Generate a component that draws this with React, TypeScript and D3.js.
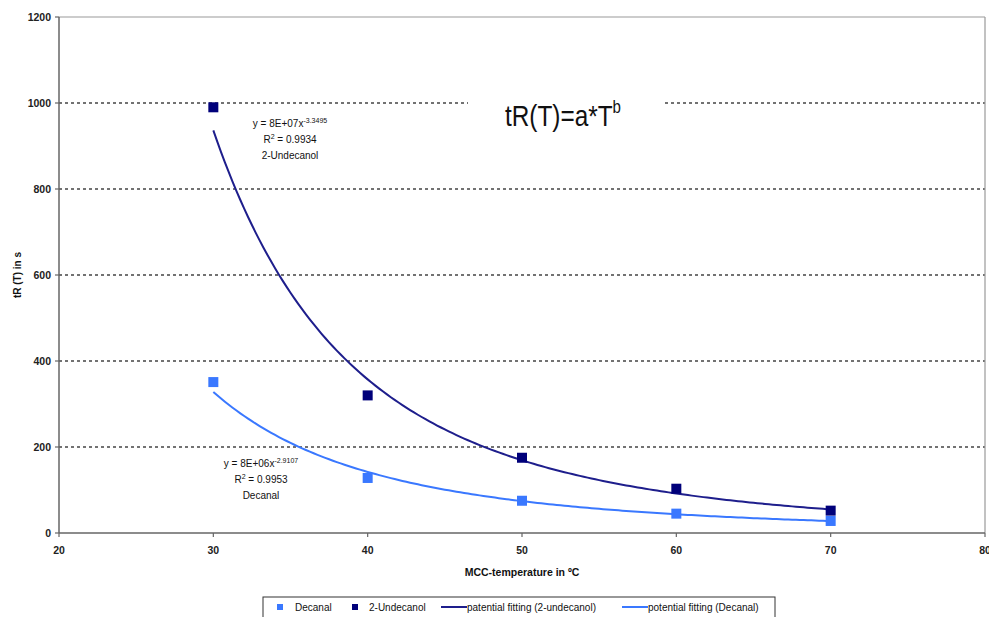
import React from "react";
import * as d3 from "d3";

const temperatures = [30, 40, 50, 60, 70];
const decanal = [351, 128, 75, 45, 28];
const undecanol = [990, 320, 175, 103, 52];

// power-law trend lines y = a * T^b (as drawn)
const fitUndecanol = { a: 8.3e7, b: -3.3495 };
const fitDecanal = { a: 6.54e6, b: -2.9107 };
const fitRange = [30, 70];

const xTicks = [20, 30, 40, 50, 60, 70, 80];
const yTicks = [0, 200, 400, 600, 800, 1000, 1200];
const gridTicks = [200, 400, 600, 800, 1000];

const W = 989;
const H = 617;
const L = 59;
const R = 985;
const T = 17;
const B = 533;

const C_DEC = "#3a78ff";
const C_UND = "#00007a";
const C_DEC_LINE = "#3a78ff";
const C_UND_LINE = "#1e1e8c";
const FONT = "'Liberation Sans', Arial, sans-serif";

export default function App() {
  const x = d3.scaleLinear().domain([20, 80]).range([L, R]);
  const y = d3.scaleLinear().domain([0, 1200]).range([B, T]);
  const line = d3
    .line<[number, number]>()
    .x((d) => x(d[0]))
    .y((d) => y(d[1]))
    .curve(d3.curveLinear);
  const samples = d3.range(fitRange[0], fitRange[1] + 0.001, 0.25);
  const curve = (f: { a: number; b: number }) =>
    line(samples.map((t) => [t, f.a * Math.pow(t, f.b)] as [number, number])) || "";

  const ms = 10;
  return (
    <svg
      width={W}
      height={H}
      style={{ position: "absolute", left: 0, top: 0, background: "#fff" }}
      fontFamily={FONT}
    >
      <rect x={0} y={0} width={W} height={H} fill="#fff" />
      {/* grid */}
      {gridTicks.map((v) => (
        <line
          key={v}
          x1={L}
          x2={R}
          y1={y(v)}
          y2={y(v)}
          stroke="#444"
          strokeWidth={1.3}
          strokeDasharray="3,3"
        />
      ))}
      {/* frame */}
      <line x1={L} x2={R} y1={T} y2={T} stroke="#999" strokeWidth={1.2} />
      <line x1={R} x2={R} y1={T} y2={B} stroke="#999" strokeWidth={1.2} />
      <line x1={L} x2={L} y1={T} y2={B} stroke="#666" strokeWidth={1.5} />
      <line x1={L} x2={R} y1={B} y2={B} stroke="#666" strokeWidth={1.5} />
      {/* y ticks */}
      {yTicks.map((v) => (
        <g key={v}>
          <line x1={L - 4} x2={L} y1={y(v)} y2={y(v)} stroke="#666" strokeWidth={1.2} />
          <text
            x={L - 8}
            y={y(v) + 3.5}
            textAnchor="end"
            fontSize={10.5}
            fontWeight="bold"
            fill="#222"
          >
            {v}
          </text>
        </g>
      ))}
      {/* x ticks */}
      {xTicks.map((v) => (
        <g key={v}>
          <line x1={x(v)} x2={x(v)} y1={B} y2={B + 4} stroke="#666" strokeWidth={1.2} />
          <text
            x={x(v)}
            y={B + 21}
            textAnchor="middle"
            fontSize={10.5}
            fontWeight="bold"
            fill="#222"
          >
            {v}
          </text>
        </g>
      ))}
      {/* axis titles */}
      <text
        x={(L + R) / 2}
        y={576}
        textAnchor="middle"
        fontSize={10.5}
        fontWeight="bold"
        fill="#111"
      >
        MCC-temperature in ºC
      </text>
      <text
        transform={`translate(21,${(T + B) / 2}) rotate(-90)`}
        textAnchor="middle"
        fontSize={10}
        fontWeight="bold"
        fill="#111"
      >
        tR (T) in s
      </text>
      {/* title box */}
      <rect x={468} y={92} width={197} height={40} fill="#fff" />
      <text transform="translate(505,126) scale(0.84,1)" fontSize={29} fill="#111">
        tR(T)=a*T
        <tspan fontSize={18} dy={-13}>b</tspan>
      </text>
      {/* fit curves */}
      <path d={curve(fitUndecanol)} fill="none" stroke={C_UND_LINE} strokeWidth={2} />
      <path d={curve(fitDecanal)} fill="none" stroke={C_DEC_LINE} strokeWidth={2} />
      {/* markers */}
      {temperatures.map((t, i) => (
        <rect
          key={"u" + t}
          x={x(t) - ms / 2}
          y={y(undecanol[i]) - ms / 2}
          width={ms}
          height={ms}
          fill={C_UND}
        />
      ))}
      {temperatures.map((t, i) => (
        <rect
          key={"d" + t}
          x={x(t) - ms / 2}
          y={y(decanal[i]) - ms / 2}
          width={ms}
          height={ms}
          fill={C_DEC}
        />
      ))}
      {/* annotations */}
      <g fontSize={10} fill="#111" textAnchor="middle">
        <text x={290} y={127}>
          y = 8E+07x
          <tspan fontSize={7} dy={-4}>-3.3495</tspan>
        </text>
        <text x={290} y={143}>
          R<tspan fontSize={7} dy={-4}>2</tspan>
          <tspan dy={4}> = 0.9934</tspan>
        </text>
        <text x={290} y={159}>2-Undecanol</text>
        <text x={261} y={467}>
          y = 8E+06x
          <tspan fontSize={7} dy={-4}>-2.9107</tspan>
        </text>
        <text x={261} y={483}>
          R<tspan fontSize={7} dy={-4}>2</tspan>
          <tspan dy={4}> = 0.9953</tspan>
        </text>
        <text x={261} y={499}>Decanal</text>
      </g>
      {/* legend */}
      <rect x={263} y={597} width={512} height={30} fill="#fff" stroke="#333" strokeWidth={1} />
      <g fontSize={10} fill="#111">
        <rect x={277} y={604} width={6} height={6} fill={C_DEC} />
        <text x={295} y={611}>Decanal</text>
        <rect x={352} y={604} width={6} height={6} fill={C_UND} />
        <text x={369} y={611}>2-Undecanol</text>
        <line x1={441} x2={467} y1={607} y2={607} stroke={C_UND_LINE} strokeWidth={2} />
        <text x={467} y={611}>patential fitting (2-undecanol)</text>
        <line x1={622} x2={648} y1={607} y2={607} stroke={C_DEC_LINE} strokeWidth={2} />
        <text x={648} y={611}>potential fitting (Decanal)</text>
      </g>
    </svg>
  );
}
